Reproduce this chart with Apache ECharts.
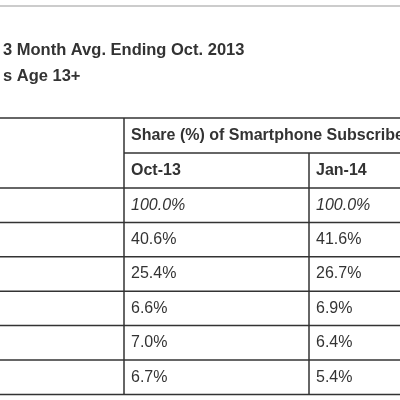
<!DOCTYPE html>
<html>
<head>
<meta charset="utf-8">
<script src="https://cdn.jsdelivr.net/npm/echarts@6/dist/echarts.min.js"></script>
<style>html,body{margin:0;padding:0;background:#fff}#chart{width:400px;height:400px}</style>
</head>
<body>
<div id="chart"></div>
<script>
// table content
const titleLines = ['3 Month Avg. Ending Oct. 2013', 's Age 13+'];
const groupHeader = 'Share (%) of Smartphone Subscribers';
const periods = ['Oct-13', 'Jan-14'];
const oct13 = ['100.0%', '40.6%', '25.4%', '6.6%', '7.0%', '6.7%'];
const jan14 = ['100.0%', '41.6%', '26.7%', '6.9%', '6.4%', '5.4%'];

const chart = echarts.init(document.getElementById('chart'));

const tableTop = 118, headH = 35, rowH = 34.4;
const colX = [124, 309];
const ink = '#333';
const font = '"Liberation Sans", Arial, sans-serif';
const els = [];

function line(x1, y1, x2, y2, color, w) {
    els.push({type: 'line', shape: {x1: x1, y1: y1, x2: x2, y2: y2},
        style: {stroke: color || ink, lineWidth: w || 1.5}});
}
function text(x, y, s, opts) {
    els.push({type: 'text', x: x, y: y, style: Object.assign({
        text: s, fill: ink, font: '16px ' + font, textVerticalAlign: 'middle'}, opts || {})});
}

line(0, 6, 400, 6, '#999', 1);
titleLines.forEach(function (t, i) {
    text(3, 50 + i * 26, t, {font: 'bold 16.5px ' + font});
});

const subTop = tableTop + headH;
const rowsTop = subTop + headH;
const bottom = rowsTop + oct13.length * rowH;

line(0, tableTop, 400, tableTop);
text(colX[0] + 7, tableTop + headH / 2, groupHeader, {font: 'bold 16px ' + font});
line(colX[0], subTop, 400, subTop);
periods.forEach(function (p, i) {
    text(colX[i] + 7, subTop + headH / 2, p, {font: 'bold 16px ' + font});
});
line(colX[0], tableTop, colX[0], bottom);
line(colX[1], subTop, colX[1], bottom);

oct13.forEach(function (v, i) {
    const y = rowsTop + i * rowH;
    line(0, y, 400, y);
    const st = i === 0 ? {font: 'italic 16px ' + font} : {};
    text(colX[0] + 7, y + rowH / 2, v, st);
    text(colX[1] + 7, y + rowH / 2, jan14[i], st);
});
line(0, bottom, 400, bottom);

chart.setOption({animation: false, graphic: {elements: els}});
</script>
</body>
</html>
